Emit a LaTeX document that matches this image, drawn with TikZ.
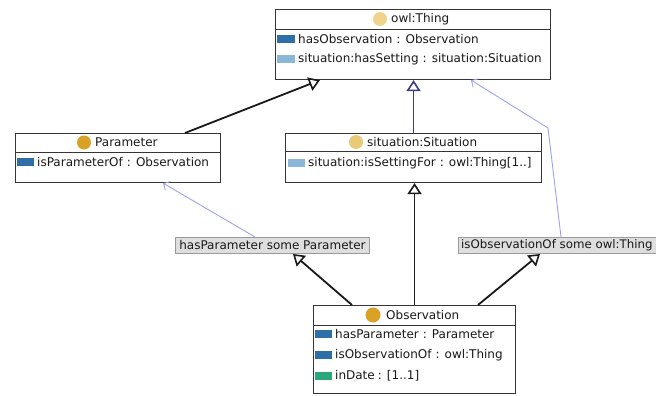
\documentclass[tikz,border=0pt]{standalone}
\usepackage{fontspec}
\setmainfont{DejaVu Sans}
\usetikzlibrary{arrows.meta,calc}
\definecolor{boxline}{HTML}{353535}
\definecolor{lblfill}{HTML}{DEDEDE}
\definecolor{lbldraw}{HTML}{9A9A9A}
\definecolor{navy}{HTML}{3B3B86}
\definecolor{restrblue}{HTML}{A0A0EC}
\definecolor{icpale}{HTML}{EED48C}
\definecolor{icgold}{HTML}{D9A126}
\definecolor{icsitu}{HTML}{EAC977}
\definecolor{pdark}{HTML}{2D6FA6}
\definecolor{plight}{HTML}{8AB7D8}
\definecolor{pgreen}{HTML}{2BA77B}
\begin{document}
\begin{tikzpicture}[x=1pt,y=-1pt,
  font=\fontsize{12}{14}\selectfont,
  cls/.style={draw=boxline, line width=1.1pt, fill=white, rectangle,
    inner sep=0pt, anchor=north west},
  lbl/.style={draw=lbldraw, fill=lblfill, line width=1pt, rectangle,
    inner sep=0pt, minimum height=16pt, anchor=north west},
  txt/.style={anchor=west, inner sep=0pt, text=black!90},
  divider/.style={draw=boxline, line width=0.9pt},
  gen/.style={-{Triangle[open,length=11pt,width=14pt,line width=1.6pt]},
    line width=1.8pt, draw=black!90},
  restr/.style={-{Straight Barb[length=5pt,width=10pt,line width=0.9pt]},
    line width=0.9pt, draw=restrblue},
  objprop/.style={fill=pdark},
  objlight/.style={fill=plight},
  dataprop/.style={fill=pgreen}]
\useasboundingbox (0,0) rectangle (656,396);
\clip (0,0) rectangle (656,396);

% ---- owl:Thing ----
\node[cls, minimum width=275pt, minimum height=70pt] (thing) at (275,9) {};
\draw[divider] (275,29) -- (550,29);
\fill[icpale] (380,19) circle (7pt);
\node[txt] (thingT) at (391,19) {owl:Thing};
\fill[objprop] (277,35) rectangle (295,43);
\node[txt] (thingR1) at (298,39) {hasObservation\hspace{4pt}: Observation};
\fill[objlight] (277,55) rectangle (295,63);
\node[txt] (thingR2) at (298,59) {situation:hasSetting\hspace{4pt}: situation:Situation};

% ---- Parameter ----
\node[cls, minimum width=205pt, minimum height=49pt] (param) at (15,133) {};
\draw[divider] (15,152) -- (220,152);
\fill[icgold] (84,142.5) circle (7pt);
\node[txt] (paramT) at (95,142.5) {Parameter};
\fill[objprop] (17,158) rectangle (34,166);
\node[txt] (paramR1) at (37,162) {isParameterOf\hspace{4pt}: Observation};

% ---- situation:Situation ----
\node[cls, minimum width=256pt, minimum height=49pt] (situ) at (285,133) {};
\draw[divider] (285,151) -- (541,151);
\fill[icsitu] (356,142) circle (7pt);
\node[txt] (situT) at (367,142) {situation:Situation};
\fill[objlight] (288,159) rectangle (305,167);
\node[txt] (situR1) at (308,163) {situation:isSettingFor\hspace{4pt}: owl:Thing[1..]};

% ---- Observation ----
\node[cls, minimum width=202pt, minimum height=88pt] (obs) at (313,305) {};
\draw[divider] (313,325) -- (515,325);
\fill[icgold] (373,315) circle (7.5pt);
\node[txt] (obsT) at (386,315) {Observation};
\fill[objprop] (315,330) rectangle (332,338);
\node[txt] (obsR1) at (335,334) {hasParameter\hspace{4pt}: Parameter};
\fill[objprop] (315,351) rectangle (332,359);
\node[txt] (obsR2) at (335,355) {isObservationOf\hspace{4pt}: owl:Thing};
\fill[dataprop] (315,372) rectangle (332,380);
\node[txt] (obsR3) at (335,376) {inDate\hspace{3pt}: [1..1]};

% ---- anonymous restriction classes ----
\node[lbl, minimum width=194pt] (lblpar) at (175,237) {};
\node[txt] at (lblpar.center) [anchor=center] {hasParameter some Parameter};
\node[lbl, minimum width=220pt] (lblobs) at (458,237) {};
\node[txt] at (461,245) {\fontsize{11.8}{14}\selectfont isObservationOf some owl:Thing};

% ---- subclass edges ----
\draw[gen] ($(param.north west)+(170,0)$) -- ($(thing.south west)+(45,0)$);
\draw[gen, draw=navy] (situ.north) -- (situ.north |- thing.south);
\draw[gen] (obs.north) -- (obs.north |- situ.south);
\draw[gen] ($(obs.north west)+(39,0)$) -- ($(lblpar.south west)+(118,0)$);
\draw[gen] ($(obs.north west)+(165,0)$) -- ($(lblobs.south west)+(82,0)$);

% ---- restriction edges ----
\draw[restr] ($(lblpar.north west)+(80,0)$) -- ($(param.south west)+(148,0)$);
\coordinate (bend) at (548,128);
\draw[restr] ($(lblobs.north west)+(103,0)$) -- (bend) -- ($(thing.south west)+(196,0)$);
\end{tikzpicture}
\end{document}
